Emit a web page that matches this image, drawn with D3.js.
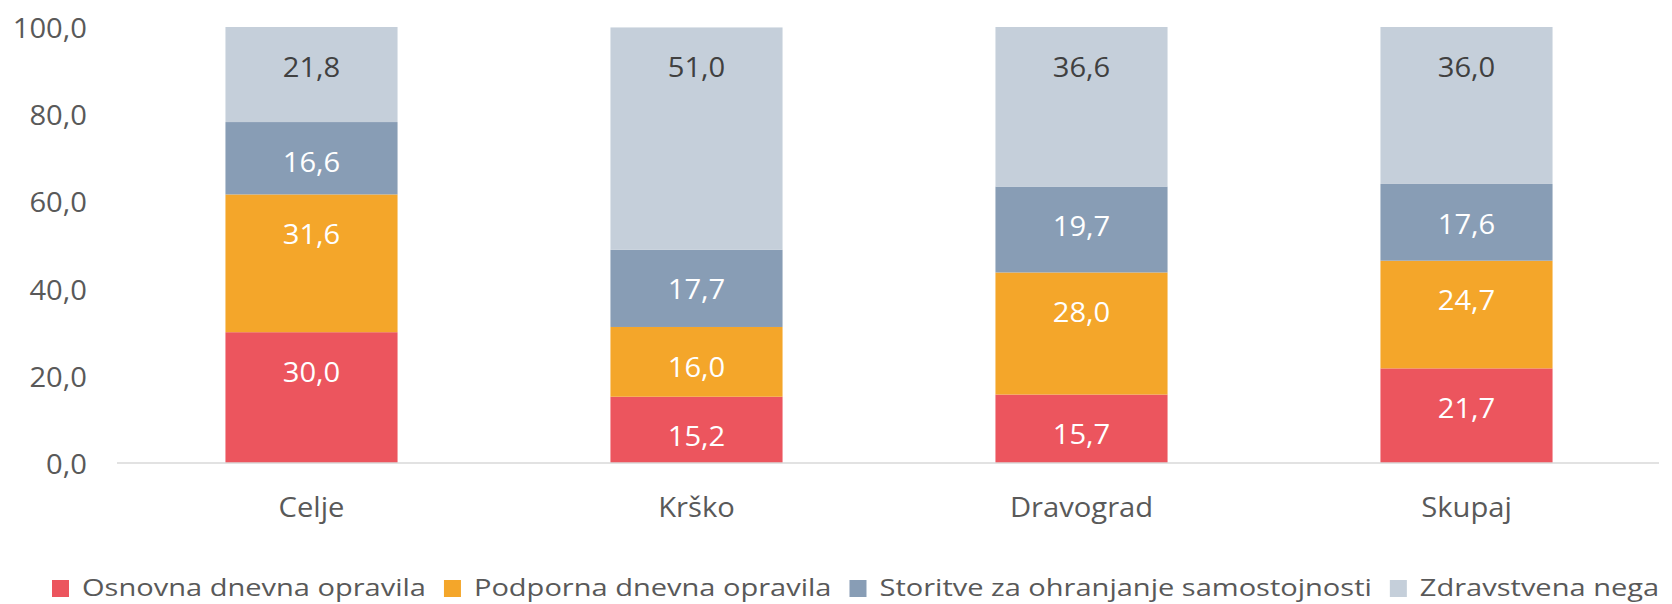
<!DOCTYPE html>
<html>
<head>
<meta charset="utf-8">
<script src="https://cdn.jsdelivr.net/npm/d3@7"></script>
<style>
  html, body { margin: 0; padding: 0; background: #fff; }
  svg { display: block; }
  text { font-family: "Open Sans", sans-serif; }
</style>
</head>
<body>
<svg id="chart" width="1672" height="604"></svg>
<script>
const categories = ["Celje", "Krško", "Dravograd", "Skupaj"];
const seriesNames = ["Osnovna dnevna opravila", "Podporna dnevna opravila", "Storitve za ohranjanje samostojnosti", "Zdravstvena nega"];
const osnovna = [30.0, 15.2, 15.7, 21.7];
const podporna = [31.6, 16.0, 28.0, 24.7];
const storitve = [16.6, 17.7, 19.7, 17.6];
const zdravstvena = [21.8, 51.0, 36.6, 36.0];
const yTicks = [0, 20, 40, 60, 80, 100];
const colors = ["#EC555E", "#F4A62A", "#889DB5", "#C5CFDA"];
const labelColors = ["#ffffff", "#ffffff", "#ffffff", "#404040"];

const seriesValues = [osnovna, podporna, storitve, zdravstvena];
const rows = categories.map((c, i) => {
  const r = { cat: c };
  seriesNames.forEach((s, k) => r[s] = seriesValues[k][i]);
  return r;
});
const stacked = d3.stack().keys(seriesNames)(rows);

const svg = d3.select("#chart");
const SX = 1.08;
const fmt = v => v.toFixed(1).replace(".", ",");

const x = d3.scaleBand().domain(categories).range([119, 1659]).paddingInner(0.553).paddingOuter(0.2765);
const y = d3.scaleLinear().domain([0, 100]).range([463, 27]);

// bars
stacked.forEach((layer, k) => {
  const g = svg.append("g");
  g.selectAll("rect").data(layer).enter().append("rect")
    .attr("x", d => x(d.data.cat))
    .attr("width", x.bandwidth())
    .attr("y", d => y(d[1]))
    .attr("height", d => y(d[0]) - y(d[1]))
    .attr("fill", colors[k]);
  g.selectAll("text").data(layer).enter().append("text")
    .attr("transform", d => `translate(${x(d.data.cat) + x.bandwidth() / 2},${y(d[1]) + 39}) scale(${SX},1)`)
    .attr("text-anchor", "middle")
    .attr("dominant-baseline", "central")
    .attr("font-size", 27)
    .attr("fill", labelColors[k])
    .text(d => fmt(d[1] - d[0]));
});

// axis line
svg.append("line").attr("x1", 117).attr("x2", 1659).attr("y1", y(0)).attr("y2", y(0))
  .attr("stroke", "#d9d9d9").attr("stroke-width", 1.5);

// y ticks
const yAxis = d3.axisLeft(y).tickValues(yTicks).tickFormat(fmt).tickSize(0).tickPadding(0);
const ya = svg.append("g").attr("transform", "translate(87,0)").call(yAxis);
ya.select(".domain").remove();
ya.selectAll("text")
  .attr("font-size", 27).attr("fill", "#595959")
  .attr("font-family", "Open Sans, sans-serif")
  .attr("dy", null).attr("dominant-baseline", "central")
  .attr("x", null)
  .attr("transform", `scale(${SX},1)`);

// x axis
const xAxis = d3.axisBottom(x).tickSize(0).tickPadding(0);
const xa = svg.append("g").attr("transform", "translate(0,506)").call(xAxis);
xa.select(".domain").remove();
xa.selectAll("text")
  .attr("font-size", 27).attr("fill", "#595959")
  .attr("font-family", "Open Sans, sans-serif")
  .attr("dy", null).attr("y", null).attr("dominant-baseline", "central")
  .attr("transform", `scale(${SX},1)`);

// legend
const LSX = 1.21;
const legend = svg.append("g");
let lx = 52;
const lBase = 596;
seriesNames.forEach((s, k) => {
  legend.append("rect").attr("x", lx).attr("y", 580).attr("width", 17).attr("height", 17).attr("fill", colors[k]);
  const t = legend.append("text")
    .attr("transform", `translate(${lx + 30},${lBase}) scale(${LSX},1)`)
    .attr("font-size", 24).attr("fill", "#595959")
    .text(s);
  const w = t.node().getComputedTextLength() * LSX;
  lx = lx + 30 + w + 18;
});
</script>
</body>
</html>
